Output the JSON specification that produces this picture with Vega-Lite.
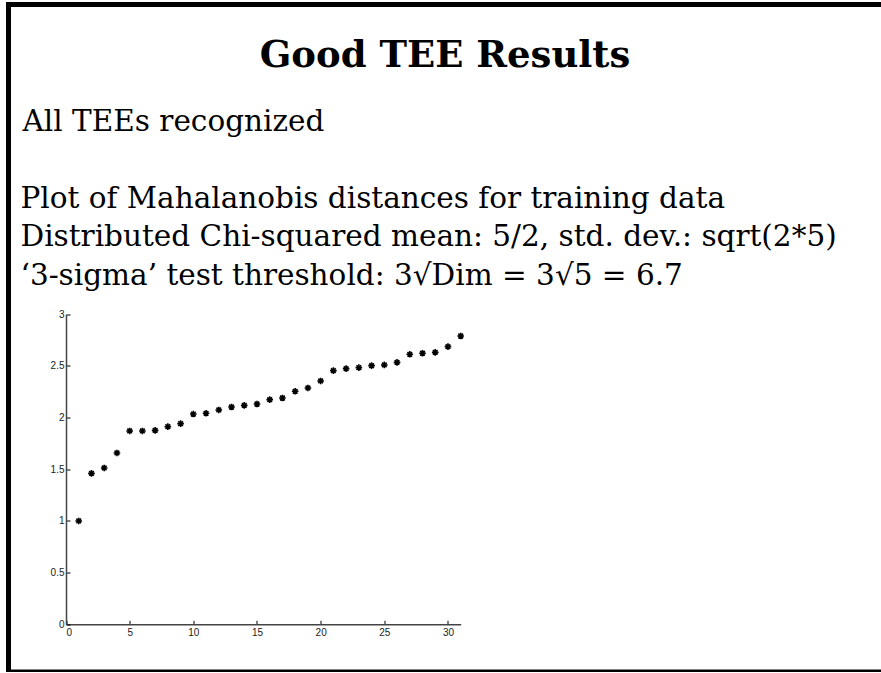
{
  "$schema": "https://vega.github.io/schema/vega-lite/v6.json",
  "autosize": "none",
  "padding": {"left": 8.5, "top": 4.5, "right": 0, "bottom": 0},
  "width": 900,
  "height": 667.5,
  "background": "white",
  "config": {"view": {"stroke": "black", "strokeWidth": 5}},
  "title": {
    "text": "Good TEE Results",
    "font": "DejaVu Serif",
    "fontSize": 37,
    "fontWeight": "bold",
    "color": "black",
    "anchor": "middle",
    "frame": "group",
    "dx": -13.5,
    "offset": -70
  },
  "data": {
    "values": [
      {"x": 1, "d": 1.0},
      {"x": 2, "d": 1.461},
      {"x": 3, "d": 1.513},
      {"x": 4, "d": 1.658},
      {"x": 5, "d": 1.871},
      {"x": 6, "d": 1.871},
      {"x": 7, "d": 1.877},
      {"x": 8, "d": 1.913},
      {"x": 9, "d": 1.942},
      {"x": 10, "d": 2.035},
      {"x": 11, "d": 2.042},
      {"x": 12, "d": 2.074},
      {"x": 13, "d": 2.103},
      {"x": 14, "d": 2.119},
      {"x": 15, "d": 2.132},
      {"x": 16, "d": 2.174},
      {"x": 17, "d": 2.19},
      {"x": 18, "d": 2.255},
      {"x": 19, "d": 2.287},
      {"x": 20, "d": 2.355},
      {"x": 21, "d": 2.455},
      {"x": 22, "d": 2.474},
      {"x": 23, "d": 2.484},
      {"x": 24, "d": 2.503},
      {"x": 25, "d": 2.51},
      {"x": 26, "d": 2.535},
      {"x": 27, "d": 2.613},
      {"x": 28, "d": 2.623},
      {"x": 29, "d": 2.632},
      {"x": 30, "d": 2.687},
      {"x": 31, "d": 2.79}
    ]
  },
  "mark": {
    "type": "point",
    "shape": "M-1,0L1,0M0,-1L0,1M-0.7,-0.7L0.7,0.7M-0.7,0.7L0.7,-0.7",
    "filled": false,
    "stroke": "black",
    "strokeWidth": 1.6,
    "size": 44,
    "opacity": 1
  },
  "encoding": {
    "x": {
      "field": "x",
      "type": "quantitative",
      "scale": {"domain": [0, 31], "range": [57.5, 452.2], "nice": false, "zero": false},
      "axis": {
        "orient": "bottom",
        "offset": -47.7,
        "values": [0, 5, 10, 15, 20, 25, 30],
        "format": "~g",
        "grid": false,
        "tickSize": -4,
        "tickColor": "black",
        "tickWidth": 1,
        "domainColor": "#444444",
        "domainWidth": 1.5,
        "labelFont": "Liberation Sans",
        "labelFontSize": 10,
        "labelColor": "#222222",
        "labelPadding": 7,
        "title": "All TEEs recognized",
        "titleFont": "DejaVu Serif",
        "titleFontSize": 29.5,
        "titleFontWeight": "normal",
        "titleColor": "black",
        "titleAngle": 0,
        "titleAlign": "left",
        "titleBaseline": "alphabetic",
        "titleX": 13.5,
        "titleY": -494.3
      }
    },
    "y": {
      "field": "d",
      "type": "quantitative",
      "scale": {"domain": [0, 3], "range": [619.8, 309.8], "nice": false, "zero": false},
      "axis": {
        "orient": "left",
        "offset": -57.5,
        "values": [0, 0.5, 1, 1.5, 2, 2.5, 3],
        "format": "~g",
        "grid": false,
        "tickSize": -4,
        "tickColor": "black",
        "tickWidth": 1,
        "domainColor": "#444444",
        "domainWidth": 1.5,
        "labelFont": "Liberation Sans",
        "labelFontSize": 10,
        "labelColor": "#222222",
        "labelPadding": 6,
        "title": ["Plot of Mahalanobis distances for training data", "Distributed Chi-squared mean: 5/2, std. dev.: sqrt(2*5)", "‘3-sigma’ test threshold: 3√Dim = 3√5 = 6.7"],
        "titleFont": "DejaVu Serif",
        "titleFontSize": 29.5,
        "titleFontWeight": "normal",
        "titleColor": "black",
        "titleAngle": 0,
        "titleAlign": "left",
        "titleBaseline": "alphabetic",
        "titleX": -46,
        "titleY": 202.5,
        "titleLineHeight": 38.5
      }
    }
  }
}
